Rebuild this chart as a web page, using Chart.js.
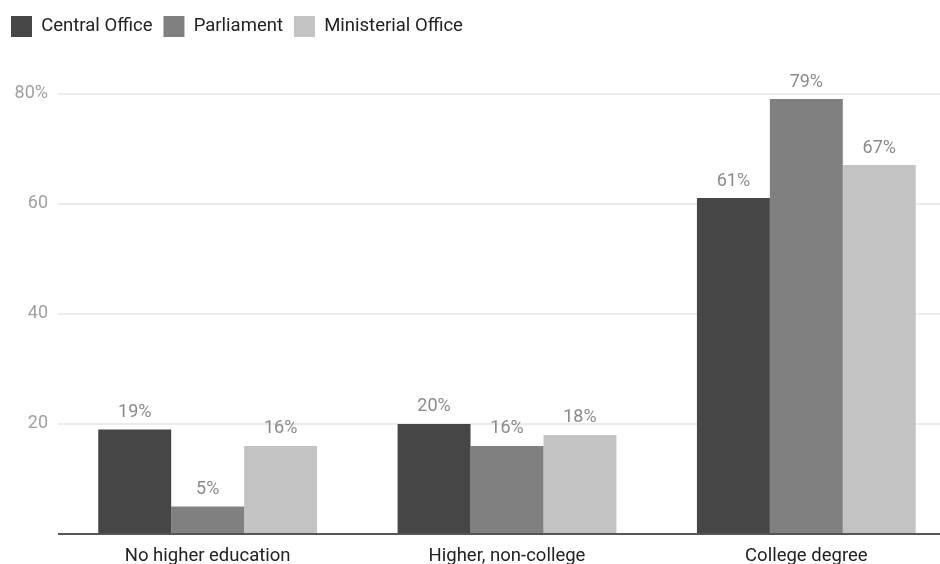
<!DOCTYPE html>
<html>
<head>
<meta charset="utf-8">
<script src="https://cdn.jsdelivr.net/npm/chart.js@4.4.1/dist/chart.umd.min.js"></script>
<style>
  html, body { margin: 0; padding: 0; background: #fff; overflow: hidden; }
  #wrap { width: 940px; height: 564px; overflow: hidden; }
</style>
</head>
<body>
<div id="wrap"><canvas id="chart" width="960" height="564"></canvas></div>
<script>
// Chart data
var categories = ["No higher education", "Higher, non-college", "College degree"];
var centralOffice = [19, 20, 61];
var parliament = [5, 16, 79];
var ministerialOffice = [16, 18, 67];

// bar value labels
var valueLabels = {
    id: 'valueLabels',
    afterDatasetsDraw: function(chart) {
        var ctx = chart.ctx;
        ctx.save();
        ctx.font = '18px Roboto';
        ctx.fillStyle = '#8a8a8a';
        ctx.textAlign = 'center';
        ctx.textBaseline = 'bottom';
        chart.data.datasets.forEach(function(ds, i) {
            chart.getDatasetMeta(i).data.forEach(function(bar, j) {
                ctx.fillText(ds.data[j] + '%', bar.x, bar.y - 8);
            });
        });
        ctx.restore();
    }
};

// legend gets a fixed block above the plot
var legendSpace = {
    id: 'legendSpace',
    beforeInit: function(chart) {
        var fit = chart.legend.fit;
        chart.legend.fit = function() {
            fit.bind(chart.legend)();
            this.height = 88.5;
        };
    }
};

var ctx = document.getElementById('chart');

new Chart(ctx, {
    type: 'bar',
    data: {
        labels: categories,
        datasets: [
            { label: 'Central Office', data: centralOffice, backgroundColor: '#464646' },
            { label: 'Parliament', data: parliament, backgroundColor: '#808080' },
            { label: 'Ministerial Office', data: ministerialOffice, backgroundColor: '#c3c3c3' }
        ]
    },
    options: {
        responsive: false,
        animation: false,
        layout: { padding: { left: 0, right: 4, top: 5, bottom: 0 } },
        datasets: {
            bar: { categoryPercentage: 0.731, barPercentage: 1.0 }
        },
        plugins: {
            tooltip: { enabled: false },
            legend: {
                position: 'top',
                align: 'start',
                labels: {
                    boxWidth: 21,
                    boxHeight: 21,
                    padding: 11,
                    color: '#222',
                    font: { family: 'Roboto', size: 18.5 }
                }
            }
        },
        scales: {
            x: {
                grid: { display: false },
                border: { display: false },
                ticks: {
                    color: '#222',
                    padding: 3,
                    font: { family: 'Roboto', size: 18.5 }
                },
                afterFit: function(scale) { scale.height = 30; }
            },
            y: {
                min: 0,
                max: 80,
                border: { display: false },
                grid: {
                    drawTicks: false,
                    lineWidth: 2,
                    color: function(c) { return c.tick.value === 0 ? '#555' : '#ebebeb'; }
                },
                ticks: {
                    stepSize: 20,
                    padding: 10,
                    color: '#a0a0a0',
                    font: { family: 'Roboto', size: 18 },
                    callback: function(v) {
                        if (v === 0) return '';
                        return v === 80 ? '80%' : v;
                    }
                },
                afterFit: function(scale) { scale.width = 58; }
            }
        }
    },
    plugins: [valueLabels, legendSpace]
});
</script>
</body>
</html>
